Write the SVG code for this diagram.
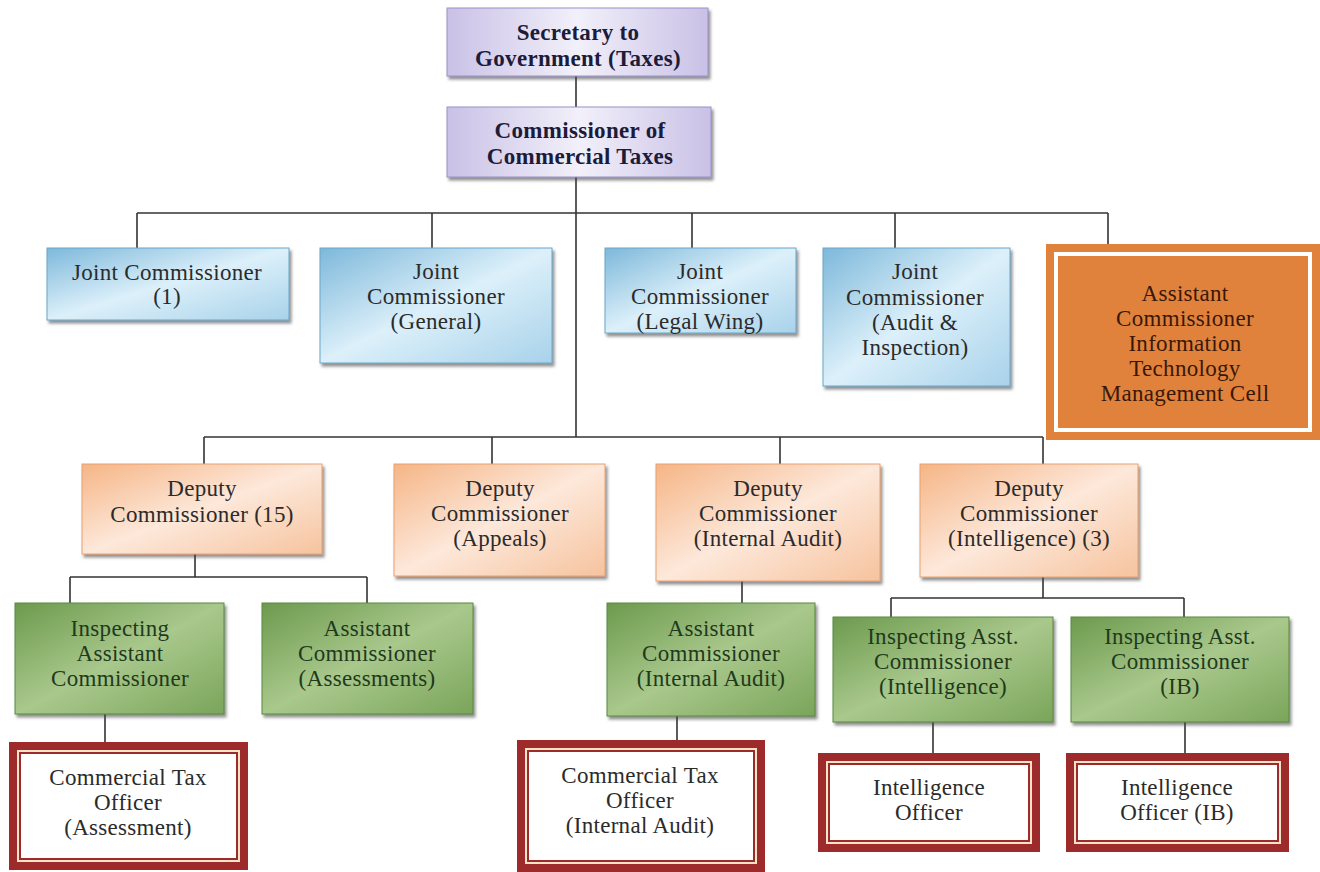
<svg xmlns="http://www.w3.org/2000/svg" width="1320" height="872" viewBox="0 0 1320 872">
<defs>
<linearGradient id="gLav" x1="0" y1="0" x2="1" y2="0">
<stop offset="0" stop-color="#c9c1e6"/><stop offset="0.5" stop-color="#f2f0fa"/><stop offset="1" stop-color="#c9c1e6"/>
</linearGradient>
<linearGradient id="gBlue" x1="0" y1="0" x2="1" y2="1">
<stop offset="0" stop-color="#7db8da"/><stop offset="0.5" stop-color="#dcf0fa"/><stop offset="1" stop-color="#a8d2ea"/>
</linearGradient>
<linearGradient id="gDep" x1="0" y1="0" x2="1" y2="1">
<stop offset="0" stop-color="#f5b586"/><stop offset="0.5" stop-color="#fde8da"/><stop offset="1" stop-color="#f6c39e"/>
</linearGradient>
<linearGradient id="gGreen" x1="0" y1="0" x2="1" y2="1">
<stop offset="0" stop-color="#6c9a4d"/><stop offset="0.5" stop-color="#a9c88c"/><stop offset="1" stop-color="#7aa55a"/>
</linearGradient>
<filter id="sh" x="-5%" y="-5%" width="115%" height="120%">
<feDropShadow dx="2" dy="3" stdDeviation="1.5" flood-color="#444" flood-opacity="0.6"/>
</filter>
<style>
text{font-family:"Liberation Serif","Times New Roman",serif;font-size:23px;letter-spacing:0.3px;text-anchor:middle;fill:#2b2b2b}
.b{font-weight:bold;fill:#1c1c3a}
.lav{fill:url(#gLav);stroke:#9a90c8;stroke-width:1}
.blue{fill:url(#gBlue);stroke:#6aa6c8;stroke-width:1}
.dep{fill:url(#gDep);stroke:#e8a070;stroke-width:1}
.grn{fill:url(#gGreen);stroke:#5a8a3e;stroke-width:1}
.gt{fill:#1f3a1c}
.ot{fill:#3a1808}
.red{fill:#9e2b2b}
.cream{fill:#f7e3c6}
.wht{fill:#ffffff}
.con path{fill:none;stroke:#333;stroke-width:1.6}
</style>
</defs>
<rect width="1320" height="872" fill="#ffffff"/>

<g class="con" id="connectors">
<path d="M576 76V107"/>
<path d="M576 177V437"/>
<path d="M137 213H1108"/>
<path d="M137 213V248M432 213V248M692 213V248M895 213V248M1108 213V244"/>
<path d="M204 437H1043"/>
<path d="M204 437V464M492 437V464M780 437V464M1043 437V464"/>
<path d="M195 554V577M70 577H367M70 577V603M367 577V603"/>
<path d="M742 581V603"/>
<path d="M1043 577V598M891 598H1184M891 598V617M1184 598V617"/>
<path d="M105 714V742"/>
<path d="M677 716V740"/>
<path d="M933 722V753"/>
<path d="M1185 722V753"/>
</g>

<g id="secretary">
<rect class="lav" x="447" y="8" width="261" height="68" filter="url(#sh)"/>
<text class="b" x="578" y="40">Secretary to</text>
<text class="b" x="578" y="66">Government (Taxes)</text>
</g>
<g id="commissioner">
<rect class="lav" x="447" y="107" width="264" height="70" filter="url(#sh)"/>
<text class="b" x="580" y="138">Commissioner of</text>
<text class="b" x="580" y="164">Commercial Taxes</text>
</g>

<g id="jc1">
<rect class="blue" x="47" y="248" width="242" height="72" filter="url(#sh)"/>
<text x="167" y="280">Joint Commissioner</text>
<text x="167" y="304">(1)</text>
</g>
<g id="jcGeneral">
<rect class="blue" x="320" y="248" width="232" height="115" filter="url(#sh)"/>
<text x="436" y="279">Joint</text>
<text x="436" y="304">Commissioner</text>
<text x="436" y="329">(General)</text>
</g>
<g id="jcLegal">
<rect class="blue" x="605" y="248" width="191" height="85" filter="url(#sh)"/>
<text x="700" y="279">Joint</text>
<text x="700" y="304">Commissioner</text>
<text x="700" y="329">(Legal Wing)</text>
</g>
<g id="jcAudit">
<rect class="blue" x="823" y="248" width="187" height="138" filter="url(#sh)"/>
<text x="915" y="279">Joint</text>
<text x="915" y="305">Commissioner</text>
<text x="915" y="330">(Audit &amp;</text>
<text x="915" y="355">Inspection)</text>
</g>
<g id="acIT">
<rect x="1046" y="244" width="274" height="196" fill="#e0823c"/>
<rect x="1056" y="254" width="254" height="176" fill="none" stroke="#ffffff" stroke-width="4"/>
<text class="ot" x="1185" y="301">Assistant</text>
<text class="ot" x="1185" y="326">Commissioner</text>
<text class="ot" x="1185" y="351">Information</text>
<text class="ot" x="1185" y="376">Technology</text>
<text class="ot" x="1185" y="401">Management Cell</text>
</g>

<g id="dc15">
<rect class="dep" x="82" y="464" width="240" height="90" filter="url(#sh)"/>
<text x="202" y="496">Deputy</text>
<text x="202" y="522">Commissioner (15)</text>
</g>
<g id="dcAppeals">
<rect class="dep" x="394" y="464" width="211" height="112" filter="url(#sh)"/>
<text x="500" y="496">Deputy</text>
<text x="500" y="521">Commissioner</text>
<text x="500" y="546">(Appeals)</text>
</g>
<g id="dcInternalAudit">
<rect class="dep" x="656" y="464" width="224" height="117" filter="url(#sh)"/>
<text x="768" y="496">Deputy</text>
<text x="768" y="521">Commissioner</text>
<text x="768" y="546">(Internal Audit)</text>
</g>
<g id="dcIntelligence">
<rect class="dep" x="920" y="464" width="218" height="113" filter="url(#sh)"/>
<text x="1029" y="496">Deputy</text>
<text x="1029" y="521">Commissioner</text>
<text x="1029" y="546">(Intelligence) (3)</text>
</g>

<g id="iac">
<rect class="grn" x="15" y="603" width="209" height="111" filter="url(#sh)"/>
<text class="gt" x="120" y="636">Inspecting</text>
<text class="gt" x="120" y="661">Assistant</text>
<text class="gt" x="120" y="686">Commissioner</text>
</g>
<g id="acAssessments">
<rect class="grn" x="262" y="603" width="211" height="111" filter="url(#sh)"/>
<text class="gt" x="367" y="636">Assistant</text>
<text class="gt" x="367" y="661">Commissioner</text>
<text class="gt" x="367" y="686">(Assessments)</text>
</g>
<g id="acInternalAudit">
<rect class="grn" x="607" y="603" width="208" height="113" filter="url(#sh)"/>
<text class="gt" x="711" y="636">Assistant</text>
<text class="gt" x="711" y="661">Commissioner</text>
<text class="gt" x="711" y="686">(Internal Audit)</text>
</g>
<g id="iacIntelligence">
<rect class="grn" x="833" y="617" width="220" height="105" filter="url(#sh)"/>
<text class="gt" x="943" y="644">Inspecting Asst.</text>
<text class="gt" x="943" y="669">Commissioner</text>
<text class="gt" x="943" y="694">(Intelligence)</text>
</g>
<g id="iacIB">
<rect class="grn" x="1071" y="617" width="218" height="105" filter="url(#sh)"/>
<text class="gt" x="1180" y="644">Inspecting Asst.</text>
<text class="gt" x="1180" y="669">Commissioner</text>
<text class="gt" x="1180" y="694">(IB)</text>
</g>

<g id="ctoAssessment">
<rect class="red" x="9" y="742" width="239" height="128"/>
<rect class="cream" x="17" y="750" width="223" height="112"/>
<rect class="red" x="19" y="752" width="219" height="108"/>
<rect class="wht" x="21" y="754" width="215" height="104"/>
<text x="128" y="785">Commercial Tax</text>
<text x="128" y="810">Officer</text>
<text x="128" y="835">(Assessment)</text>
</g>
<g id="ctoInternalAudit">
<rect class="red" x="517" y="740" width="248" height="132"/>
<rect class="cream" x="525" y="748" width="232" height="116"/>
<rect class="red" x="527" y="750" width="228" height="112"/>
<rect class="wht" x="529" y="752" width="224" height="108"/>
<text x="640" y="783">Commercial Tax</text>
<text x="640" y="808">Officer</text>
<text x="640" y="833">(Internal Audit)</text>
</g>
<g id="intelOfficer">
<rect class="red" x="818" y="753" width="222" height="99"/>
<rect class="cream" x="826" y="761" width="206" height="83"/>
<rect class="red" x="828" y="763" width="202" height="79"/>
<rect class="wht" x="830" y="765" width="198" height="75"/>
<text x="929" y="795">Intelligence</text>
<text x="929" y="820">Officer</text>
</g>
<g id="intelOfficerIB">
<rect class="red" x="1066" y="753" width="223" height="99"/>
<rect class="cream" x="1074" y="761" width="207" height="83"/>
<rect class="red" x="1076" y="763" width="203" height="79"/>
<rect class="wht" x="1078" y="765" width="199" height="75"/>
<text x="1177" y="795">Intelligence</text>
<text x="1177" y="820">Officer (IB)</text>
</g>
</svg>
